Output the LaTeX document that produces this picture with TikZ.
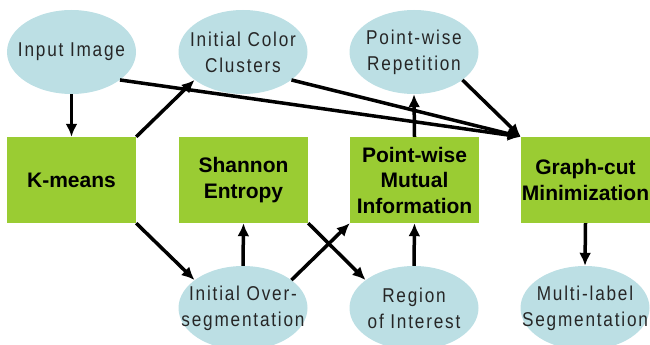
\documentclass[tikz,border=0pt]{standalone}
\usepackage{fontspec}
\setmainfont{Liberation Sans}
\newfontfamily\blobfont[LetterSpace=9, FakeStretch=0.86]{Liberation Sans}
\usepackage{tikz}
\usetikzlibrary{arrows.meta, shapes.geometric}

\definecolor{blobblue}{RGB}{188,223,228}
\definecolor{boxgreen}{RGB}{154,204,51}

\begin{document}
\begin{tikzpicture}[x=1pt, y=-1pt,
    blob/.style={ellipse, fill=blobblue, minimum width=129pt, minimum height=84pt,
      inner xsep=-30pt, inner ysep=0pt, align=center, text=black!85,
      font=\blobfont\fontsize{20}{26}\selectfont},
    stage/.style={rectangle, fill=boxgreen, minimum width=129pt, minimum height=86pt,
      inner sep=0pt, align=center, font=\bfseries\fontsize{21}{25.5}\selectfont},
    flow/.style={line width=3.5pt, -{Latex[length=13pt,width=12pt]}}]
      \useasboundingbox (0,0) rectangle (650,345);

      % 1. 上排：輸入與中間結果
      \node[blob] (input) at (71.5,52) {Input Image};
      \node[blob] (clusters) at (243,52) {Initial Color\\Clusters};
      \node[blob] (repeat) at (414,52) {Point-wise\\Repetition};

      % 2. 中排：處理步驟
      \node[stage] (kmeans) at (71.5,180) {K-means};
      \node[stage] (entropy) at (243.5,180) {Shannon\\Entropy};
      \node[stage] (pmi) at (414.5,180) {Point-wise\\Mutual\\Information};
      \node[stage] (graphcut) at (585.5,180) {Graph-cut\\Minimization};

      % 3. 下排
      \node[blob] (overseg) at (243,308) {Initial Over-\\segmentation};
      \node[blob] (roi) at (414,308) {Region\\of Interest};
      \node[blob] (multi) at (585,308) {Multi-label\\Segmentation};

      % 4. 箭頭
      \draw[flow] (input.south) -- (kmeans.north);
      \draw[flow] (kmeans.north east) -- (clusters.210);
      \draw[flow] (input.-30) -- (graphcut.north west);
      \draw[flow] (clusters.-30) -- (graphcut.north west);
      \draw[flow] (repeat.-30) -- (graphcut.north west);
      \draw[flow] (pmi.north) -- (repeat.south);
      \draw[flow] (kmeans.south east) -- (overseg.150);
      \draw[flow] (overseg.north) -- (entropy.south);
      \draw[flow] (entropy.south east) -- (roi.150);
      \draw[flow] (overseg.30) -- (pmi.south west);
      \draw[flow] (roi.north) -- (pmi.south);
      \draw[flow] (graphcut.south) -- (multi.north);
\end{tikzpicture}
\end{document}
